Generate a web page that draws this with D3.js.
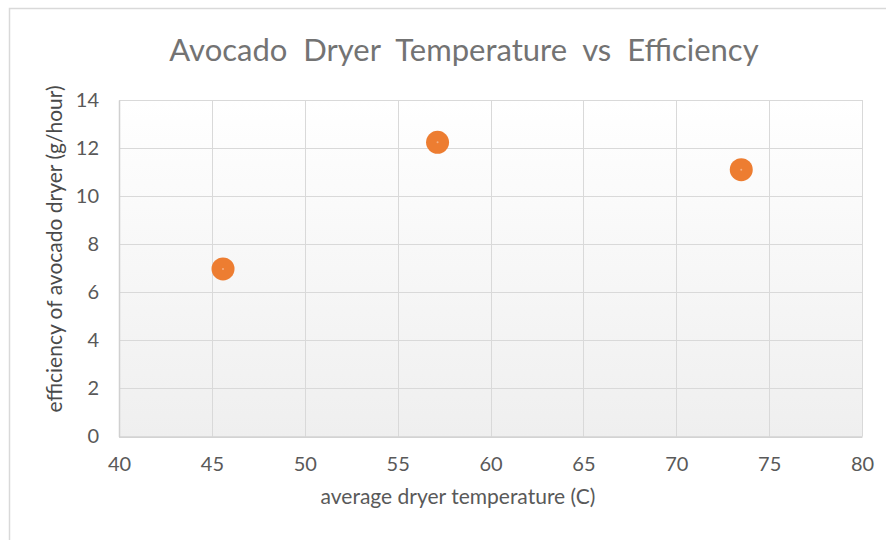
<!DOCTYPE html>
<html><head><meta charset="utf-8">
<script src="https://cdn.jsdelivr.net/npm/d3@7"></script>
<style>body{margin:0;background:#fff;}text{font-family:Lato,"Open Sans",sans-serif;fill:#595959;}</style>
</head><body>
<svg id="c" width="886" height="540"></svg>
<script>
const temperatures = [45.6, 57.15, 73.5];
const efficiencies = [6.97, 12.24, 11.1];
const xTicks = [40,45,50,55,60,65,70,75,80];
const yTicks = [0,2,4,6,8,10,12,14];
const title = "Avocado  Dryer  Temperature  vs  Efficiency";
const xTitle = "average dryer temperature (C)";
const yTitle = "efficiency of avocado dryer (g/hour)";

const svg = d3.select("#c");
const L=119,R=862,T=100,B=436.5;
const x = d3.scaleLinear().domain([40,80]).range([L,R]);
const y = d3.scaleLinear().domain([0,14]).range([B,T]);

// chart border
svg.append("path").attr("d","M9.5,540 V8.5 H886").attr("fill","none").attr("stroke","#d9d9d9").attr("stroke-width",1.5);

const defs = svg.append("defs");
const g = defs.append("linearGradient").attr("id","bg").attr("x1",0).attr("y1",0).attr("x2",0).attr("y2",1);
g.append("stop").attr("offset","0").attr("stop-color","#ffffff");
g.append("stop").attr("offset","1").attr("stop-color","#efefef");
svg.append("rect").attr("x",L).attr("y",T).attr("width",R-L).attr("height",B-T).attr("fill","url(#bg)");

// gridlines
svg.append("g").selectAll("line").data(yTicks).join("line")
  .attr("x1",L).attr("x2",R).attr("y1",d=>Math.round(y(d))+0.5).attr("y2",d=>Math.round(y(d))+0.5)
  .attr("stroke","#d9d9d9").attr("stroke-width",1);
svg.append("g").selectAll("line").data(xTicks).join("line")
  .attr("y1",T).attr("y2",B).attr("x1",d=>Math.round(x(d))+0.5).attr("x2",d=>Math.round(x(d))+0.5)
  .attr("stroke","#d9d9d9").attr("stroke-width",1);

// axes
const font = "Lato,'Open Sans',sans-serif";
const xa = svg.append("g").attr("transform",`translate(0,${B})`)
  .call(d3.axisBottom(x).tickValues(xTicks).tickSize(0).tickPadding(20));
xa.select(".domain").attr("stroke","#d0d0d0").attr("stroke-width",1.5);
xa.selectAll("text").attr("font-size",20).style("fill","#595959").attr("font-family",font);
const ya = svg.append("g").attr("transform",`translate(${L},0)`)
  .call(d3.axisLeft(y).tickValues(yTicks).tickSize(0).tickPadding(20));
ya.select(".domain").attr("stroke","#d0d0d0").attr("stroke-width",1.5);
ya.selectAll("text").attr("font-size",20).style("fill","#595959").attr("font-family",font);

// points
const pts = temperatures.map((t,i)=>({t,e:efficiencies[i]}));
svg.append("g").selectAll("circle").data(pts).join("circle")
  .attr("cx",d=>x(d.t)).attr("cy",d=>y(d.e)).attr("r",11.5).attr("fill","#ED7D31");
svg.append("g").selectAll("circle").data(pts).join("circle")
  .attr("cx",d=>x(d.t)).attr("cy",d=>y(d.e)).attr("r",1).attr("fill","#f4b183");

// titles
svg.append("text").attr("x",464).attr("y",61).attr("text-anchor","middle").attr("font-size",31)
  .style("fill","#737373").style("white-space","pre").attr("xml:space","preserve").text(title);
svg.append("text").attr("x",458).attr("y",504).attr("text-anchor","middle").attr("font-size",21).text(xTitle);
svg.append("text").attr("transform","translate(62,249) rotate(-90)").attr("text-anchor","middle").attr("font-size",21).style("fill","#4a4a4a").text(yTitle);
</script>
</body></html>
